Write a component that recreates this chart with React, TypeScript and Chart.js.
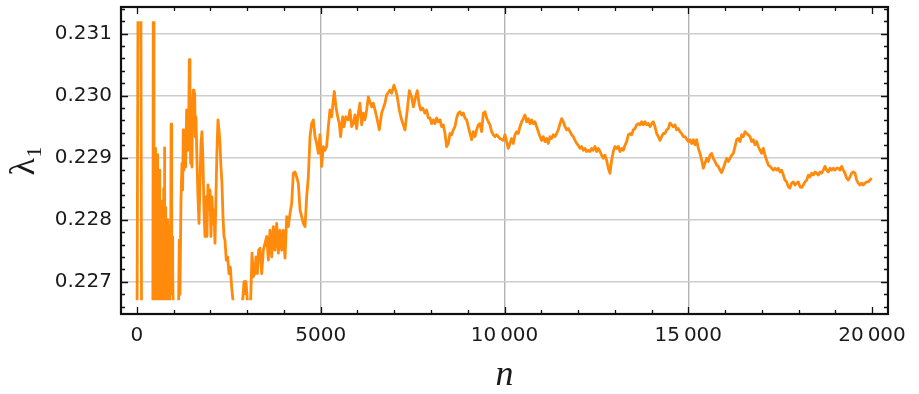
import React, { useEffect, useRef } from "react";
import { Chart, registerables } from "chart.js";

Chart.register(...registerables);

// ---- data ----
const N: number[] = [
  0, 30, 105, 125, 430, 445,
  462, 470, 478, 486, 494, 502, 510, 518, 526, 534, 542, 550, 558, 566, 574, 582, 590, 598, 606, 614,
  622, 630, 638, 646, 654, 662, 670, 678, 686, 694, 702, 710, 718, 725, 732, 738, 745, 752, 760, 768,
  776, 784, 792, 800, 808, 816, 824, 832, 840, 848, 856, 864, 872, 880, 888, 896, 904, 911, 918, 928,
  936, 944, 952, 960, 968, 975, 985, 995,
  1030, 1110, 1130, 1150, 1170, 1197, 1224, 1242, 1260, 1278, 1306, 1324, 1351, 1369, 1387, 1405, 1424, 1442, 1460,
  1478, 1496, 1514, 1532, 1550, 1569, 1587, 1605, 1632, 1659, 1687, 1714, 1741, 1768, 1795, 1823, 1850, 1877, 1904, 1931,
  1959, 1986, 2013, 2040, 2068, 2095, 2122, 2149, 2176, 2204, 2231, 2258, 2285, 2312, 2340, 2367, 2394, 2430, 2467, 2503,
  2539, 2575, 2612, 2660, 2840, 2876, 2912, 2939, 2966, 3003, 3040, 3070, 3093, 3130, 3166, 3202, 3238, 3275, 3311, 3347,
  3393, 3438, 3483, 3529, 3574, 3619, 3665, 3710, 3755, 3801, 3846, 3892, 3937, 3982, 4028, 4073, 4118, 4164, 4209, 4254,
  4300, 4345, 4390, 4436, 4481, 4526, 4572, 4617, 4662, 4708, 4753, 4799, 4844, 4889, 4935, 4979, 5024, 5070, 5115, 5160,
  5206, 5251, 5296, 5342, 5369, 5414, 5451, 5505, 5541, 5596, 5632, 5686, 5750, 5795, 5841, 5886, 5931, 5977, 6022, 6067,
  6113, 6158, 6203, 6249, 6294, 6340, 6385, 6430, 6476, 6521, 6593, 6657, 6748, 6793, 6884, 6929, 6993, 7047, 7083, 7138,
  7201, 7292, 7355, 7410, 7473, 7519, 7582, 7627, 7673, 7718, 7773, 7836, 7881, 7927, 7972, 8017, 8063, 8108, 8154, 8199,
  8244, 8290, 8335, 8380, 8426, 8471, 8516, 8562, 8607, 8652, 8698, 8743, 8788, 8834, 8879, 8924, 8970, 9015, 9061, 9106,
  9151, 9197, 9242, 9287, 9333, 9378, 9423, 9469, 9514, 9559, 9605, 9650, 9695, 9741, 9786, 9877, 9968, 10013, 10058, 10104,
  10149, 10194, 10240, 10285, 10331, 10376, 10421, 10467, 10512, 10557, 10603, 10648, 10693, 10739, 10784, 10829, 10875, 10920, 10965, 11011,
  11056, 11101, 11147, 11192, 11238, 11283, 11328, 11374, 11419, 11464, 11510, 11555, 11600, 11646, 11691, 11736, 11782, 11827, 11872, 11918,
  11963, 12008, 12054, 12099, 12145, 12190, 12235, 12281, 12326, 12371, 12417, 12462, 12507, 12553, 12598, 12643, 12689, 12734, 12779, 12825,
  12870, 12915, 12961, 13006, 13052, 13097, 13142, 13188, 13233, 13278, 13324, 13369, 13414, 13460, 13505, 13550, 13596, 13641, 13686, 13732,
  13777, 13822, 13868, 13913, 13959, 14004, 14049, 14095, 14140, 14185, 14231, 14276, 14321, 14367, 14412, 14457, 14503, 14548, 14593, 14639,
  14684, 14729, 14775, 14820, 14866, 14911, 15002, 15047, 15092, 15138, 15183, 15228, 15274, 15319, 15365, 15410, 15455, 15501, 15546, 15591,
  15637, 15682, 15727, 15773, 15818, 15863, 15909, 15954, 15999, 16045, 16090, 16135, 16181, 16226, 16272, 16317, 16362, 16408, 16453, 16498,
  16544, 16589, 16634, 16680, 16725, 16770, 16816, 16861, 16906, 16952, 16997, 17042, 17088, 17133, 17179, 17224, 17269, 17315, 17360, 17405,
  17451, 17496, 17541, 17587, 17632, 17677, 17723, 17768, 17813, 17859, 17904, 17949, 17995, 18040, 18086, 18131, 18176, 18222, 18267, 18312,
  18358, 18403, 18448, 18494, 18539, 18584, 18630, 18675, 18720, 18766, 18811, 18856, 18902, 18947, 18993, 19038, 19083, 19129, 19174, 19219,
  19265, 19310, 19355, 19401, 19446, 19491, 19537, 19582, 19627, 19673, 19718, 19763, 19809, 19854, 19899, 19945, 19990,
];

const LAMBDA: number[] = [
  0.2260, 0.2320, 0.2320, 0.2260, 0.2260, 0.2320,
  0.22920, 0.22700, 0.22640, 0.22860, 0.22915, 0.22720, 0.22640, 0.22800, 0.22870, 0.22700, 0.22675, 0.22830, 0.22905, 0.22720, 0.22640, 0.22790, 0.22840, 0.22680, 0.22690, 0.22820,
  0.22880, 0.22700, 0.22640, 0.22770, 0.22830, 0.22660, 0.22680, 0.22810, 0.22790, 0.22670, 0.22640, 0.22780, 0.22850, 0.22690, 0.22700, 0.22840, 0.22916, 0.22720, 0.22670, 0.22790,
  0.22820, 0.22680, 0.22640, 0.22740, 0.22760, 0.22660, 0.22680, 0.22780, 0.22800, 0.22690, 0.22640, 0.22740, 0.22760, 0.22660, 0.22690, 0.22770, 0.22790, 0.22680, 0.22700, 0.22954,
  0.22760, 0.22800, 0.22700, 0.22772, 0.22690, 0.22720, 0.22660, 0.22640,
  0.22620, 0.22620, 0.22650, 0.22767, 0.22680, 0.22832, 0.22891, 0.22848, 0.22945, 0.22880, 0.22923, 0.22885, 0.22977, 0.22912, 0.22961, 0.22945, 0.23058, 0.22961, 0.22891,
  0.22977, 0.22885, 0.22988, 0.23009, 0.22961, 0.23004, 0.22934, 0.22966, 0.22896, 0.22837, 0.22794, 0.22859, 0.22923, 0.22942, 0.22896, 0.22816, 0.22773, 0.22837, 0.22773, 0.22856,
  0.22816, 0.22848, 0.22773, 0.22837, 0.22794, 0.22816, 0.22762, 0.22837, 0.22912, 0.22961, 0.22945, 0.22923, 0.22885, 0.22859, 0.22805, 0.22773, 0.22767, 0.22735, 0.22740, 0.22713,
  0.22724, 0.22692, 0.22670, 0.22630, 0.22630, 0.22670, 0.22700, 0.22681, 0.22700, 0.22670, 0.22640, 0.22640, 0.22670, 0.22746, 0.22708, 0.22713, 0.22740, 0.22713, 0.22751, 0.22754,
  0.22713, 0.22751, 0.22762, 0.22773, 0.22735, 0.22783, 0.22740, 0.22789, 0.22751, 0.22794, 0.22746, 0.22783, 0.22751, 0.22783, 0.22738, 0.22805, 0.22789, 0.22810, 0.22826, 0.22875,
  0.22877, 0.22869, 0.22859, 0.22816, 0.22805, 0.22794, 0.22789, 0.22837, 0.22869, 0.22934, 0.22955, 0.22961, 0.22934, 0.22923, 0.22907, 0.22937, 0.22886, 0.22918, 0.22912, 0.22918,
  0.22950, 0.22977, 0.22966, 0.22993, 0.23007, 0.22982, 0.22969, 0.22955, 0.22934, 0.22966, 0.22950, 0.22966, 0.22961, 0.22977, 0.22950, 0.22955, 0.22969, 0.22947, 0.22972, 0.22988,
  0.22953, 0.22972, 0.22961, 0.22977, 0.22998, 0.22990, 0.22982, 0.22988, 0.22977, 0.22966, 0.22945, 0.22972, 0.22988, 0.23001, 0.23009, 0.23004, 0.23017, 0.23007, 0.22998, 0.22977,
  0.22961, 0.22945, 0.22977, 0.23008, 0.22998, 0.22982, 0.22998, 0.23008, 0.22988, 0.22977, 0.22980, 0.22972, 0.22977, 0.22964, 0.22964, 0.22955, 0.22961, 0.22955, 0.22964, 0.22958,
  0.22961, 0.22950, 0.22953, 0.22939, 0.22918, 0.22923, 0.22939, 0.22937, 0.22945, 0.22950, 0.22964, 0.22972, 0.22974, 0.22969, 0.22972, 0.22964, 0.22961, 0.22950, 0.22939, 0.22929,
  0.22942, 0.22934, 0.22945, 0.22953, 0.22955, 0.22942, 0.22972, 0.22974, 0.22964, 0.22958, 0.22953, 0.22942, 0.22937, 0.22934, 0.22937, 0.22931, 0.22928, 0.22937, 0.22926, 0.22915,
  0.22923, 0.22931, 0.22923, 0.22937, 0.22942, 0.22939, 0.22950, 0.22958, 0.22963, 0.22969, 0.22958, 0.22963, 0.22955, 0.22961, 0.22955, 0.22958, 0.22950, 0.22942, 0.22934, 0.22928,
  0.22934, 0.22926, 0.22931, 0.22923, 0.22934, 0.22931, 0.22937, 0.22934, 0.22939, 0.22945, 0.22955, 0.22963, 0.22958, 0.22950, 0.22945, 0.22947, 0.22942, 0.22937, 0.22934, 0.22928,
  0.22923, 0.22920, 0.22915, 0.22918, 0.22912, 0.22915, 0.22910, 0.22912, 0.22910, 0.22915, 0.22912, 0.22918, 0.22910, 0.22915, 0.22910, 0.22904, 0.22899, 0.22904, 0.22896, 0.22883,
  0.22875, 0.22896, 0.22910, 0.22918, 0.22915, 0.22918, 0.22910, 0.22915, 0.22912, 0.22920, 0.22926, 0.22937, 0.22939, 0.22937, 0.22945, 0.22947, 0.22953, 0.22955, 0.22953, 0.22958,
  0.22953, 0.22958, 0.22953, 0.22955, 0.22950, 0.22955, 0.22958, 0.22950, 0.22939, 0.22934, 0.22928, 0.22934, 0.22939, 0.22939, 0.22945, 0.22947, 0.22956, 0.22953, 0.22950, 0.22953,
  0.22945, 0.22947, 0.22942, 0.22939, 0.22934, 0.22934, 0.22926, 0.22929, 0.22923, 0.22929, 0.22921, 0.22929, 0.22915, 0.22907, 0.22896, 0.22883, 0.22891, 0.22899, 0.22894, 0.22904,
  0.22907, 0.22899, 0.22894, 0.22888, 0.22886, 0.22880, 0.22876, 0.22883, 0.22891, 0.22899, 0.22894, 0.22899, 0.22904, 0.22907, 0.22918, 0.22929, 0.22931, 0.22926, 0.22937, 0.22934,
  0.22942, 0.22939, 0.22937, 0.22934, 0.22926, 0.22929, 0.22921, 0.22926, 0.22918, 0.22912, 0.22907, 0.22915, 0.22904, 0.22896, 0.22888, 0.22886, 0.22883, 0.22880, 0.22883, 0.22880,
  0.22883, 0.22877, 0.22880, 0.22872, 0.22864, 0.22861, 0.22853, 0.22851, 0.22859, 0.22861, 0.22856, 0.22859, 0.22861, 0.22853, 0.22852, 0.22856, 0.22861, 0.22864, 0.22872, 0.22869,
  0.22875, 0.22872, 0.22877, 0.22875, 0.22872, 0.22877, 0.22875, 0.22880, 0.22886, 0.22880, 0.22877, 0.22883, 0.22880, 0.22883, 0.22880, 0.22883, 0.22883, 0.22880, 0.22886, 0.22880,
  0.22875, 0.22867, 0.22864, 0.22869, 0.22875, 0.22877, 0.22875, 0.22864, 0.22859, 0.22856, 0.22859, 0.22856, 0.22859, 0.22861, 0.22861, 0.22864, 0.22867,
];

// axis setup
const X_MIN = -435;
const X_MAX = 20435;
const X_TICKS = [0, 5000, 10000, 15000, 20000];
const X_MINOR = 1000;
const X_GRID = [5000, 10000, 15000];
const Y_MIN = 0.22648;
const Y_MAX = 0.23143;
const Y_TICKS = [0.227, 0.228, 0.229, 0.23, 0.231];
const Y_MINOR = 0.0002;
// plot range of the curve (values outside are cut off)
const CLIP_MIN = 0.2267;
const CLIP_MAX = 0.2312;

const X_TITLE = "n";
const Y_TITLE = "λ₁";

const LINE_COLOR = "#ff8a0c";
const TEXT_COLOR = "#1a1a1a";

function fmtX(v: number): string {
  const s = String(Math.round(v));
  if (s.length <= 4) return s;
  return s.slice(0, s.length - 3) + "\u2009" + s.slice(s.length - 3);
}

const framePlugin = {
  id: "mmaFrame",
  beforeDatasetsDraw(chart: any) {
    const { ctx, chartArea: a } = chart;
    const y = chart.scales.y;
    const top = y.getPixelForValue(CLIP_MAX);
    const bot = y.getPixelForValue(CLIP_MIN);
    ctx.save();
    ctx.beginPath();
    ctx.rect(a.left, top, a.right - a.left, bot - top);
    ctx.clip();
  },
  afterDatasetsDraw(chart: any) {
    chart.ctx.restore();
  },
  afterDraw(chart: any) {
    const { ctx, chartArea: a } = chart;
    const xs = chart.scales.x;
    const ys = chart.scales.y;
    ctx.save();
    ctx.strokeStyle = "#111";
    ctx.lineWidth = 1.3;
    ctx.beginPath();
    // x ticks (bottom and top, inward)
    for (let i = 0; i * X_MINOR <= X_MAX; i++) {
      const v = i * X_MINOR;
      const major = X_TICKS.includes(v);
      const len = major ? 7 : 4;
      const px = Math.round(xs.getPixelForValue(v)) + 0.5;
      ctx.moveTo(px, a.bottom);
      ctx.lineTo(px, a.bottom - len);
      ctx.moveTo(px, a.top);
      ctx.lineTo(px, a.top + len);
    }
    // y ticks (left and right, inward)
    const k0 = Math.ceil(Y_MIN / Y_MINOR - 1e-6);
    const k1 = Math.floor(Y_MAX / Y_MINOR + 1e-6);
    for (let k = k0; k <= k1; k++) {
      const v = k * Y_MINOR;
      const major = k % 5 === 0;
      const len = major ? 7 : 4;
      const py = Math.round(ys.getPixelForValue(v)) + 0.5;
      ctx.moveTo(a.left, py);
      ctx.lineTo(a.left + len, py);
      ctx.moveTo(a.right, py);
      ctx.lineTo(a.right - len, py);
    }
    ctx.stroke();
    // frame
    ctx.lineWidth = 2.2;
    ctx.strokeStyle = "#111";
    ctx.strokeRect(a.left, a.top, a.right - a.left, a.bottom - a.top);
    ctx.restore();
  },
};

export default function App() {
  const ref = useRef<HTMLCanvasElement | null>(null);

  useEffect(() => {
    if (!ref.current) return;
    const count = Math.min(N.length, LAMBDA.length);
    const points = N.slice(0, count).map((n, i) => ({ x: n, y: LAMBDA[i] }));
    const tickFont = { family: "'DejaVu Sans', sans-serif", size: 20 };
    const chart = new Chart(ref.current, {
      type: "line",
      data: {
        datasets: [
          {
            data: points,
            borderColor: LINE_COLOR,
            borderWidth: 2.8,
            pointRadius: 0,
            tension: 0,
            fill: false,
            borderJoinStyle: "round",
          },
        ],
      },
      options: {
        animation: false,
        responsive: false,
        maintainAspectRatio: false,
        events: [],
        layout: { padding: { left: 0, top: 7, right: 31, bottom: 0 } },
        plugins: {
          legend: { display: false },
          tooltip: { enabled: false },
        },
        scales: {
          x: {
            type: "linear",
            min: X_MIN,
            max: X_MAX,
            afterBuildTicks: (s: any) => {
              s.ticks = X_TICKS.map((v) => ({ value: v }));
            },
            afterFit: (s: any) => {
              s.height = 80;
              s.paddingLeft = 0;
              s.paddingRight = 0;
            },
            border: { display: false },
            grid: {
              drawTicks: false,
              lineWidth: 1.4,
              color: (c: any) =>
                c.tick && X_GRID.includes(c.tick.value) ? "#b2b2b2" : "rgba(0,0,0,0)",
            },
            ticks: {
              autoSkip: false,
              maxRotation: 0,
              padding: 10,
              color: TEXT_COLOR,
              font: tickFont,
              callback: (v: any) => fmtX(Number(v)),
            },
            title: {
              display: true,
              text: X_TITLE,
              color: TEXT_COLOR,
              font: { family: "'Liberation Serif', serif", style: "italic", size: 36, lineHeight: 1 },
              padding: { top: 0, bottom: 0 },
            },
          },
          y: {
            type: "linear",
            min: Y_MIN,
            max: Y_MAX,
            afterBuildTicks: (s: any) => {
              s.ticks = Y_TICKS.map((v) => ({ value: v }));
            },
            afterFit: (s: any) => {
              s.width = 121;
              s.paddingTop = 0;
              s.paddingBottom = 0;
            },
            border: { display: false },
            grid: {
              drawTicks: false,
              lineWidth: 1.4,
              color: "#cdcdcd",
            },
            ticks: {
              autoSkip: false,
              padding: 9,
              color: TEXT_COLOR,
              font: tickFont,
              callback: (v: any) => Number(v).toFixed(3),
            },
            title: {
              display: true,
              text: Y_TITLE,
              color: TEXT_COLOR,
              font: { family: "'Liberation Serif', 'DejaVu Serif', serif", size: 36, lineHeight: 1 },
              padding: { top: 7, bottom: 0 },
            },
          },
        },
      },
      plugins: [framePlugin],
    });
    return () => chart.destroy();
  }, []);

  return (
    <div style={{ position: "absolute", left: 0, top: 0, width: 919, height: 394, background: "#fff" }}>
      <canvas ref={ref} width={919} height={394} style={{ display: "block" }} />
    </div>
  );
}
